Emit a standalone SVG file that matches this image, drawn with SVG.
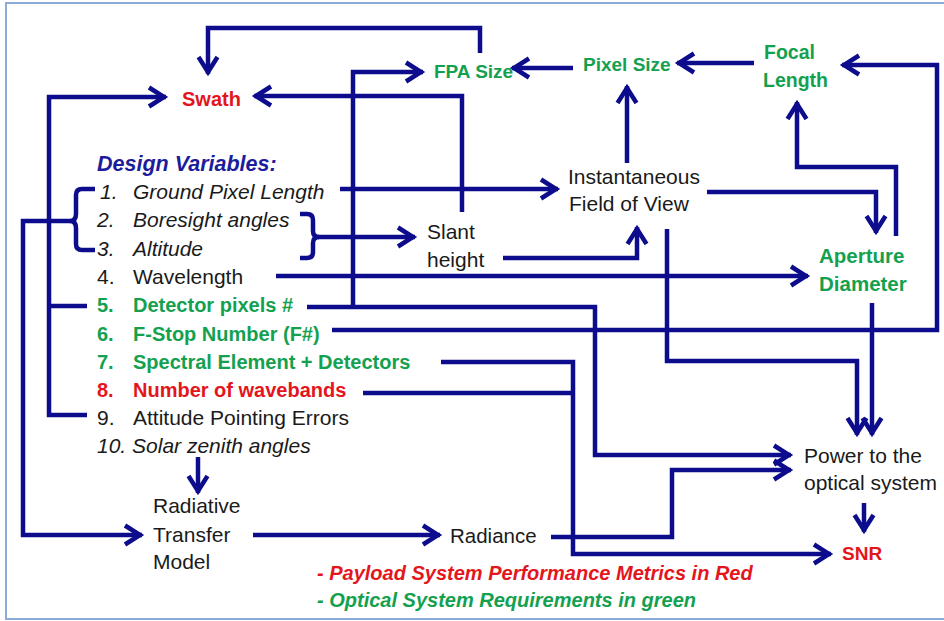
<svg xmlns="http://www.w3.org/2000/svg" width="944" height="621" viewBox="0 0 944 621">
  <style>
    text { font-family: "Liberation Sans", Arial, sans-serif; }
    .blk { fill: #1a1a1a; font-size: 21px; }
    .it { font-style: italic; }
    .grn { fill: #14a14f; font-weight: bold; font-size: 20px; }
    .red { fill: #e3161d; font-weight: bold; font-size: 20px; }
    .hd { fill: #1c1c9c; font-weight: bold; font-style: italic; font-size: 21.5px; }
    .lg { font-weight: bold; font-style: italic; font-size: 20px; }
    .wire { fill: none; stroke: #0c0c8c; stroke-width: 4.5; stroke-linejoin: miter; }
    .arr { marker-end: url(#ah); }
  </style>
  <defs>
    <marker id="ah" markerUnits="userSpaceOnUse" orient="auto" viewBox="-22 -13 26 26" markerWidth="26" markerHeight="26" refX="0" refY="0">
      <path d="M-17,-9.5 L-2,0 L-17,9.5" fill="none" stroke="#0c0c8c" stroke-width="4.5"/>
    </marker>
  </defs>

  <!-- frame -->
  <rect x="6" y="3" width="952" height="616" fill="#ffffff" stroke="#8eaadb" stroke-width="2"/>

  <!-- connectors -->
  <g id="connectors">
    <path class="wire arr" d="M480,53 V28 H208 V74"/>
    <path class="wire arr" d="M573,68 H512"/>
    <path class="wire arr" d="M754,63 H677"/>
    <path class="wire arr" d="M627,163 V86"/>
    <path class="wire arr" d="M896,236 V167 H797 V102"/>
    <path class="wire arr" d="M332,330 H937 V65 H842"/>
    <path class="wire arr" d="M340,189 H558"/>
    <path class="wire arr" d="M707,192 H876 V233"/>
    <path class="wire arr" d="M503,258 H637 V227"/>
    <path class="wire arr" d="M462,212 V96 H254"/>
    <path class="wire arr" d="M353,307 V72 H423"/>
    <path class="wire arr" d="M307,307 H595 V455 H791"/>
    <path class="wire arr" d="M87,415 H49 V97 H166"/>
    <path class="wire" d="M87,306 H49"/>
    <!-- brace over items 1-3 -->
    <path class="wire" d="M95,189 H82 Q76,189 76,195 V214 Q76,221 70,221 Q76,221 76,228 V244 Q76,250 82,250 H95"/>
    <path class="wire arr" d="M71,221 H23 V535 H142"/>
    <!-- brace over items 2-3 -->
    <path class="wire" d="M300,214 H307 Q313,214 313,220 V231 Q313,237 319,237 Q313,237 313,243 V252 Q313,258 307,258 H300"/>
    <path class="wire arr" d="M318,237 H415"/>
    <path class="wire arr" d="M276,276 H808"/>
    <path class="wire arr" d="M441,362 H573 V554 H831"/>
    <path class="wire" d="M363,393 H573"/>
    <path class="wire arr" d="M667,229 V361 H857 V435"/>
    <path class="wire arr" d="M872,303 V435"/>
    <path class="wire arr" d="M198,457 V493"/>
    <path class="wire arr" d="M253,535 H440"/>
    <path class="wire arr" d="M551,537 H672 V470 H791"/>
    <path class="wire arr" d="M864,503 V532"/>
  </g>

  <g id="swath"><text class="red" x="182" y="106">Swath</text></g>
  <g id="fpa-size"><text class="grn" x="434" y="78" style="font-size:19px">FPA Size</text></g>
  <g id="pixel-size"><text class="grn" x="583" y="71" style="font-size:19px">Pixel Size</text></g>
  <g id="focal-length">
    <text class="grn" x="764" y="59" style="font-size:19.5px">Focal</text>
    <text class="grn" x="763" y="87" style="font-size:19.5px">Length</text>
  </g>
  <g id="ifov">
    <text class="blk" x="568" y="184">Instantaneous</text>
    <text class="blk" x="569" y="211">Field of View</text>
  </g>
  <g id="slant-height">
    <text class="blk" x="427" y="239">Slant</text>
    <text class="blk" x="427" y="267">height</text>
  </g>
  <g id="aperture-diameter">
    <text class="grn" x="819" y="263" style="font-size:20.5px">Aperture</text>
    <text class="grn" x="819" y="291" style="font-size:20.5px">Diameter</text>
  </g>
  <g id="power">
    <text class="blk" x="804" y="463">Power to the</text>
    <text class="blk" x="804" y="490">optical system</text>
  </g>
  <g id="snr"><text class="red" x="842" y="560" style="font-size:19px">SNR</text></g>
  <g id="rtm">
    <text class="blk" x="153" y="513">Radiative</text>
    <text class="blk" x="153" y="542">Transfer</text>
    <text class="blk" x="153" y="569">Model</text>
  </g>
  <g id="radiance"><text class="blk" x="450" y="543" style="font-size:20.5px">Radiance</text></g>

  <g id="design-variables">
    <text class="hd" x="97" y="171">Design Variables:</text>
    <text class="blk it" x="100" y="198.5">1.</text><text class="blk it" x="133" y="198.5">Ground Pixel Length</text>
    <text class="blk it" x="97" y="227">2.</text><text class="blk it" x="133" y="227">Boresight angles</text>
    <text class="blk it" x="97" y="255.5">3.</text><text class="blk it" x="133" y="255.5">Altitude</text>
    <text class="blk" x="97" y="284">4.</text><text class="blk" x="133" y="284">Wavelength</text>
    <text class="grn" x="97" y="312">5.</text><text class="grn" x="133" y="312">Detector pixels #</text>
    <text class="grn" x="97" y="340.5">6.</text><text class="grn" x="133" y="340.5">F-Stop Number (F#)</text>
    <text class="grn" x="97" y="368.5">7.</text><text class="grn" x="133" y="368.5">Spectral Element + Detectors</text>
    <text class="red" x="97" y="397">8.</text><text class="red" x="133" y="397">Number of wavebands</text>
    <text class="blk" x="97" y="425">9.</text><text class="blk" x="133" y="425">Attitude Pointing Errors</text>
    <text class="blk it" x="97" y="453">10. Solar zenith angles</text>
  </g>

  <g id="legend">
    <text class="lg" x="317" y="580" fill="#e3161d">- Payload System Performance Metrics in Red</text>
    <text class="lg" x="317" y="607" fill="#14a14f">- Optical System Requirements in green</text>
  </g>
</svg>
